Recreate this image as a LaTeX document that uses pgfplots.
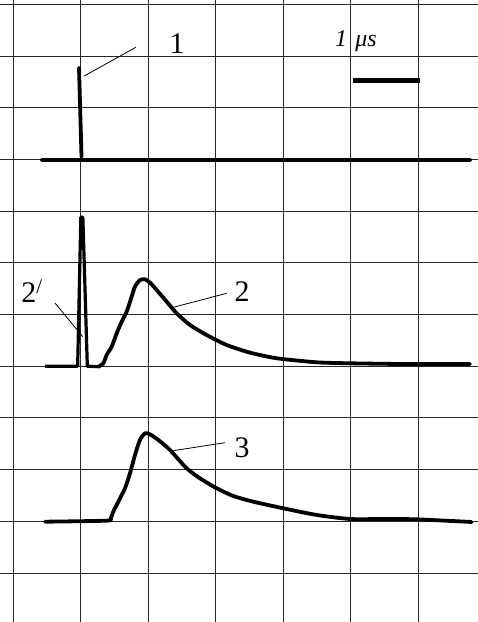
\documentclass[border=0pt]{standalone}
\usepackage{pgfplots}
\pgfplotsset{compat=1.18}
\usepackage{fontspec}
\setmainfont{Liberation Serif}
\begin{document}
\begin{tikzpicture}
\begin{axis}[
 width=478bp, height=622bp, scale only axis,
 xmin=-0.1926, xmax=6.889, ymin=0.052, ymax=12.083,
 axis line style={draw=none},
 xtick={0,...,6}, ytick={1,...,12},
 xticklabels={}, yticklabels={},
 major tick length=0pt,
 grid=major, grid style={black!85, line width=0.8bp},
 clip=false,
 curve/.style={black, line width=3.8bp, line join=round, line cap=round},
 lead/.style={black, line width=0.8bp},
]
\coordinate (bl) at (rel axis cs:0,0);
\coordinate (tr) at (rel axis cs:1,1);
% trace 1
\addplot[curve] coordinates {(0.43,8.99) (6.77,8.99)};
\addplot[curve] coordinates {(1.015,9.05) (0.978,10.77)};
% trace 2: spike 2'
\addplot[black, line width=3.2bp, line join=round] coordinates {(0.474,5.0) (0.958,5.0) (1.005,7.88) (1.035,7.88) (1.101,5.0) (1.27,4.99)};
% trace 2 main
\addplot[curve, smooth, tension=0.4] coordinates {
(1.264,4.99) (1.338,5.056) (1.388,5.217) (1.462,5.378) (1.536,5.636) (1.610,5.861)
(1.684,6.055) (1.758,6.345) (1.807,6.538) (1.881,6.667) (1.956,6.68) (2.030,6.615)
(2.128,6.474) (2.277,6.248) (2.425,6.023) (2.622,5.797) (2.869,5.603) (3.165,5.410)
(3.511,5.262) (3.906,5.153) (4.499,5.075) (4.993,5.056) (5.733,5.043) (6.770,5.043)};
% trace 3
\addplot[curve, smooth, tension=0.4] coordinates {
(0.474,1.992) (1.388,2.012) (1.447,2.057) (1.486,2.186) (1.560,2.379) (1.659,2.638)
(1.733,2.928) (1.807,3.282) (1.881,3.573) (1.956,3.702) (2.030,3.682) (2.153,3.573)
(2.326,3.379) (2.573,3.025) (2.770,2.831) (3.018,2.638) (3.264,2.489) (3.560,2.379)
(4.005,2.251) (4.499,2.122) (4.993,2.044) (5.486,2.044) (5.98,2.038) (6.796,1.986)};
% scale bar
\addplot[black, line width=5bp] coordinates {(5.04,10.52) (6.03,10.52)};
% leaders
\addplot[lead] coordinates {(1.052,10.61) (1.822,11.17)};
\addplot[lead] coordinates {(0.622,6.222) (1.033,5.571)};
\addplot[lead] coordinates {(2.375,6.139) (3.166,6.41)};
\addplot[lead] coordinates {(2.375,3.366) (3.141,3.52)};
% labels
\node[anchor=base, inner sep=0pt] at (axis cs:2.43,11.04) {\fontsize{30}{30}\selectfont 1};
\node[anchor=base, inner sep=0pt] at (axis cs:3.393,6.248) {\fontsize{30}{30}\selectfont 2};
\node[anchor=base, inner sep=0pt] at (axis cs:3.393,3.238) {\fontsize{30}{30}\selectfont 3};
\node[anchor=base, inner sep=0pt] at (axis cs:0.281,6.24) {\fontsize{30}{30}\selectfont 2\textsuperscript{/}};
\node[anchor=base, inner sep=0pt] at (axis cs:5.081,11.174) {\fontsize{24}{24}\selectfont\itshape 1\hspace{0.35em}μs};
\end{axis}
\pgfresetboundingbox
\path (bl) rectangle (tr);
\end{tikzpicture}
\end{document}
